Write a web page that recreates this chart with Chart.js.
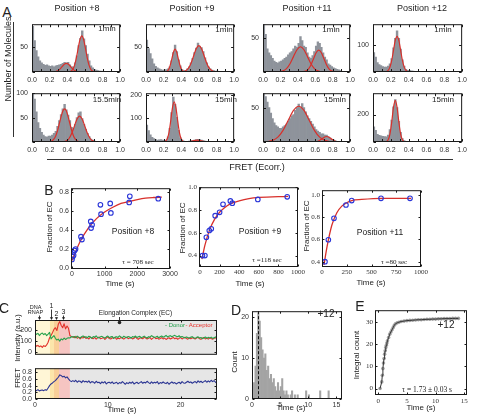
<!DOCTYPE html>
<html>
<head>
<meta charset="utf-8">
<script src="https://cdn.jsdelivr.net/npm/chart.js@4.4.1/dist/chart.umd.min.js"></script>
<style>
  body { margin: 0; background: #fff; }
  #fig { position: relative; width: 480px; height: 420px; overflow: hidden; background: #fff;
         font-family: "Liberation Sans", Arial, sans-serif; color: #222; }
  #fig canvas { position: absolute; }
  .lbl { position: absolute; white-space: nowrap; line-height: 1; transform: translate(-50%, -50%); }
  .rot { transform: translate(-50%, -50%) rotate(-90deg); }
  .rule { position: absolute; background: #333; }
</style>
</head>
<body>
<div id="fig"></div>
<script>
// ---------- A: FRET histograms (counts per 0.02 bin, 0..1) ----------
const fretTicks = [0, 0.1, 0.2, 0.3, 0.4, 0.5, 0.6, 0.7, 0.8, 0.9, 1];
const binWidth = 0.02;

const histA1 = [90, 62, 42, 30, 22, 18, 15, 13, 14, 12,
                11, 12, 10, 12, 13, 14, 15, 17, 19, 18,
                19, 14, 10, 10, 18, 32, 52, 66, 81, 65,
                52, 35, 22, 12, 8, 5, 4, 3, 2, 2,
                1, 1, 0, 0, 0, 0, 0, 0, 0, 0];
const histA2 = [63, 46, 36, 26, 16, 11, 8, 6, 5, 4,
                4, 5, 6, 10, 22, 38, 53, 40, 24, 12,
                5, 3, 3, 6, 10, 18, 27, 38, 47, 57,
                50, 48, 40, 28, 18, 10, 6, 4, 3, 2,
                2, 1, 1, 1, 0, 0, 0, 0, 0, 0];
const histA3 = [72, 55, 34, 28, 24, 20, 16, 14, 13, 15,
                16, 18, 20, 22, 25, 28, 30, 34, 38, 36,
                42, 52, 46, 38, 36, 28, 22, 20, 24, 30,
                38, 44, 42, 36, 28, 22, 18, 12, 10, 8,
                6, 5, 4, 3, 2, 1, 0, 0, 0, 0];
const histA4 = [72, 56, 35, 28, 24, 20, 18, 18, 22, 30,
                50, 90, 125, 153, 125, 85, 45, 22, 10, 6,
                6, 4, 3, 1, 1, 0, 0, 0, 0, 0,
                0, 0, 0, 0, 0, 0, 0, 0, 0, 0,
                0, 0, 0, 0, 0, 0, 0, 0, 0, 0];
const histA5 = [100, 88, 62, 40, 28, 20, 14, 11, 10, 12,
                12, 14, 18, 22, 32, 44, 56, 68, 77, 66,
                55, 44, 30, 28, 36, 50, 60, 62, 48, 36,
                26, 18, 11, 6, 4, 2, 1, 1, 0, 0,
                0, 0, 0, 0, 0, 0, 0, 0, 0, 0];
const histA6 = [72, 48, 30, 20, 14, 10, 8, 9, 10, 8,
                6, 8, 22, 58, 125, 191, 160, 105, 50, 18,
                8, 4, 3, 3, 4, 5, 6, 8, 10, 11,
                10, 8, 6, 4, 3, 2, 1, 1, 0, 0,
                0, 0, 0, 0, 0, 0, 0, 0, 0, 0];
const histA7 = [71, 66, 58, 50, 42, 34, 28, 24, 22, 20,
                20, 22, 24, 26, 30, 34, 38, 40, 46, 50,
                55, 50, 56, 50, 44, 38, 34, 30, 26, 22,
                18, 16, 14, 12, 12, 10, 10, 8, 6, 4,
                3, 2, 1, 1, 0, 0, 0, 0, 0, 0];
const histA8 = [110, 85, 55, 48, 45, 42, 40, 38, 50, 90,
                160, 255, 308, 250, 150, 70, 25, 10, 5, 3,
                2, 1, 1, 0, 0, 0, 0, 0, 0, 0,
                0, 0, 0, 0, 0, 0, 0, 0, 0, 0,
                0, 0, 0, 0, 0, 0, 0, 0, 0, 0];

// fitted peaks, read as [FRET, count]
const fitA1a = [[0.15,0],[0.24,0.2],[0.27,1],[0.29,2.3],[0.31,4.7],[0.33,8.3],[0.35,12.3],[0.37,15.7],[0.39,17],[0.41,15.7],[0.43,12.3],[0.45,8.3],[0.47,4.7],[0.49,2.3],[0.51,1],[0.54,0.2],[0.6,0]];
const fitA1b = [[0.38,0],[0.405,0.1],[0.425,0.6],[0.445,2],[0.465,6],[0.485,14.6],[0.505,29.2],[0.525,47.9],[0.545,64.3],[0.565,71],[0.585,64.3],[0.605,47.9],[0.625,29.2],[0.645,14.6],[0.665,6],[0.685,2],[0.705,0.6],[0.725,0.1],[0.78,0],[1,0]];
const fitA2a = [[0.15,0],[0.21,0.1],[0.23,0.8],[0.25,3.3],[0.27,10.4],[0.29,23.4],[0.31,38.2],[0.33,45],[0.35,38.2],[0.37,23.4],[0.39,10.4],[0.41,3.3],[0.43,0.8],[0.45,0.1],[0.5,0]];
const fitA2b = [[0.35,0],[0.39,0.1],[0.42,0.6],[0.45,2.3],[0.48,7],[0.51,16.9],[0.54,31.6],[0.57,45.9],[0.6,52],[0.63,45.9],[0.66,31.6],[0.69,16.9],[0.72,7],[0.75,2.3],[0.78,0.6],[0.81,0.1],[0.86,0],[1,0]];
const fitA3a = [[0.12,0],[0.19,0.4],[0.23,1.6],[0.27,5],[0.31,12],[0.35,22.5],[0.39,32.6],[0.43,37],[0.47,32.6],[0.51,22.5],[0.55,12],[0.59,5],[0.63,1.6],[0.67,0.4],[0.74,0]];
const fitA3b = [[0.4,0],[0.46,0.4],[0.49,1.4],[0.52,4.3],[0.55,10.4],[0.58,19.4],[0.61,28.2],[0.64,32],[0.67,28.2],[0.7,19.4],[0.73,10.4],[0.76,4.3],[0.79,1.4],[0.82,0.4],[0.88,0],[1,0]];
const fitA4 = [[0.05,0],[0.13,0.3],[0.15,1.5],[0.17,5.8],[0.19,18],[0.21,43.2],[0.23,80.7],[0.25,117.4],[0.27,133],[0.29,117.4],[0.31,80.7],[0.33,43.2],[0.35,18],[0.37,5.8],[0.39,1.5],[0.41,0.3],[0.46,0],[1,0]];
const fitA5a = [[0.15,0],[0.19,0.3],[0.21,1],[0.23,2.7],[0.25,6.3],[0.27,13],[0.29,23.6],[0.31,37.5],[0.33,52],[0.35,63.7],[0.37,68],[0.39,63.7],[0.41,52],[0.43,37.5],[0.45,23.6],[0.47,13],[0.49,6.3],[0.51,2.7],[0.53,1],[0.55,0.3],[0.6,0]];
const fitA5b = [[0.3,0],[0.33,0.1],[0.36,0.6],[0.39,2.3],[0.42,7.2],[0.45,17.2],[0.48,32.1],[0.51,46.7],[0.54,53],[0.57,46.7],[0.6,32.1],[0.63,17.2],[0.66,7.2],[0.69,2.3],[0.72,0.6],[0.75,0.1],[0.8,0],[1,0]];
const fitA6a = [[0.1,0],[0.18,0.1],[0.2,0.5],[0.22,2.9],[0.24,12.5],[0.26,39],[0.28,88.5],[0.3,144.4],[0.32,170],[0.34,144.4],[0.36,88.5],[0.38,39],[0.4,12.5],[0.42,2.9],[0.44,0.5],[0.46,0.1],[0.5,0]];
const fitA6b = [[0.4,0],[0.43,0.1],[0.48,1.1],[0.53,4.9],[0.58,8],[0.63,4.9],[0.68,1.1],[0.73,0.1],[0.8,0],[1,0]];
const fitA7a = [[0,0.1],[0.05,0.6],[0.11,2.3],[0.17,7],[0.23,16.9],[0.29,31.6],[0.35,45.9],[0.41,52],[0.47,45.9],[0.53,31.6],[0.59,16.9],[0.65,7],[0.71,2.3],[0.77,0.6],[0.83,0.1],[0.9,0]];
const fitA7b = [[0.55,0],[0.58,0.1],[0.63,1.1],[0.68,4.9],[0.73,8],[0.78,4.9],[0.83,1.1],[0.88,0.1],[0.92,0]];
const fitA8 = [[0.05,0],[0.13,0.4],[0.15,3],[0.17,16],[0.19,58],[0.21,145],[0.23,252],[0.25,303],[0.27,252],[0.29,145],[0.31,58],[0.33,16],[0.35,3],[0.37,0.4],[0.42,0],[1,0]];

// ---------- B: fraction of EC vs time ----------
const b1T = [0, 20, 50, 80, 110, 275, 305, 575, 585, 615, 870, 890, 1170, 1190, 1750, 1770, 2640];
const b1Y = [0.09, 0.12, 0.135, 0.185, 0.2, 0.33, 0.3, 0.49, 0.42, 0.455, 0.665, 0.567, 0.68, 0.58, 0.69, 0.755, 0.73];
const b1FitT = [0, 250, 500, 750, 1000, 1250, 1500, 1750, 2000, 2250, 2500, 2750];
const b1FitY = [0.08, 0.28, 0.42, 0.52, 0.59, 0.64, 0.68, 0.70, 0.72, 0.735, 0.742, 0.746];
const b2T = [25, 50, 65, 95, 115, 155, 200, 235, 310, 330, 590, 890];
const b2Y = [0.4, 0.4, 0.56, 0.62, 0.635, 0.75, 0.78, 0.85, 0.88, 0.86, 0.893, 0.916];
const b2FitT = [20, 50, 100, 150, 200, 250, 300, 400, 500, 600, 900];
const b2FitY = [0.37, 0.49, 0.63, 0.72, 0.78, 0.82, 0.85, 0.88, 0.9, 0.91, 0.92];
const b3T = [30, 64, 121, 242, 300, 596, 889];
const b3Y = [0.4, 0.597, 0.79, 0.91, 0.95, 0.97, 0.97];
const b3FitT = [20, 50, 75, 100, 150, 200, 250, 300, 400, 600, 900];
const b3FitY = [0.37, 0.53, 0.64, 0.73, 0.84, 0.9, 0.93, 0.95, 0.96, 0.97, 0.97];

// ---------- C: single-molecule trace, 0.2 s frames ----------
const cDt = 0.2;
const cDonor = [175,160,170,150,165,172,158,168,150,162,178,
  120,135,150,125,110,118,100,120,112,128,115,125,130,128,140,
  138,142,130,145,136,128,140,147,133,139, 131,144,137,126,141,135,148,132,129,140,
  143,134,127,139,146,131,138,142,125,136, 140,133,147,138,129,144,136,131,142,137,
  128,141,135,146,132,139,143,130,137,145, 134,128,140,136,149,141,133,138,144,130,
  139,146,135,142,151,138,145,149,140,147, 152,143,139,148,136,141,134,129,138,132,
  127,136,140,131,125,134,138,128,133,122, 130,137,126,134,129,136,124,131,138,128];
const cAcceptor = [70,55,62,50,58,45,60,52,66,90,130,
  150,175,205,220,195,250,275,240,220,255,210,235,215,150,140,
  138,130,142,126,135,120,133,128,140,124, 131,119,136,127,122,134,118,129,137,121,
  126,132,115,128,138,123,119,130,125,134, 117,127,121,133,126,118,129,136,122,128,
  131,120,126,139,124,117,130,127,121,135, 128,119,125,132,116,127,134,122,129,118,
  124,131,120,127,115,123,130,119,126,133, 121,128,117,125,132,120,127,135,124,118,
  129,122,131,126,119,128,134,121,116,127, 132,120,125,118,129,123,117,126,131,122];
const cFret = [0.27,0.25,0.28,0.24,0.26,0.27,0.25,0.28,0.26,0.33,0.40,
  0.45,0.48,0.52,0.55,0.60,0.65,0.72,0.70,0.66,0.68,0.63,0.66,0.60,0.55,0.52,
  0.55,0.52,0.56,0.50,0.54,0.53,0.49,0.55,0.51,0.53, 0.50,0.54,0.48,0.52,0.51,0.47,0.53,0.49,0.50,0.46,
  0.51,0.48,0.52,0.45,0.49,0.50,0.47,0.51,0.46,0.48, 0.50,0.45,0.49,0.47,0.52,0.48,0.44,0.49,0.46,0.50,
  0.47,0.51,0.45,0.48,0.50,0.46,0.49,0.52,0.47,0.50, 0.48,0.53,0.49,0.46,0.51,0.47,0.50,0.48,0.52,0.45,
  0.49,0.47,0.51,0.48,0.46,0.50,0.44,0.48,0.51,0.47, 0.49,0.45,0.48,0.50,0.46,0.52,0.48,0.47,0.50,0.53,
  0.49,0.51,0.47,0.50,0.52,0.48,0.54,0.50,0.53,0.49, 0.52,0.55,0.50,0.54,0.51,0.56,0.52,0.55,0.50,0.47];
const cPhaseStart = [0, 2.05, 2.6, 3.3, 4.8];
const cPhaseEnd = [2.05, 2.6, 3.3, 4.8, 25];
const cStepTimes = [0.6, 2.2, 2.9, 3.9];
const cStepLabels = [['DNA', 'RNAP'], ['1'], ['2'], ['3']];
const ecTime = 11.6;

// ---------- D: dwell-time histogram (0.25 s bins) ----------
const dBin = 0.25;
const dCounts = [0,4,8,16,21,19,15,12,10,11, 7,8,5,6,4,5,3,2,4,2,
                 3,5,2,1,2,1,0,1,2,0, 1,0,1,0,0,0,0,0,2,0,
                 1,0,0,0,0,0,0,0,2,0, 0,0,0,0,2,0,0,0,0,0];
const dMarker = 1.1;

// ---------- E: integral count ----------
const eT = [0.3,0.6,0.7,0.8,0.9,1.0,1.1,1.2,1.3,1.4,1.5,1.6,1.8,2.0,2.2,2.4,2.6,2.8,3.0,3.3,3.6,4.0,4.5,5.0,5.5,6.0,6.5,7.0,7.5,8.0,8.5,9.0,9.5,10.0,10.5,11.0,11.5,12.0,12.5,13.0,13.5,14.0];
const eY = [0,3,6,9,11.5,13.5,15.5,17,18.5,19.5,20.5,21.5,23,24.5,25.5,26.5,27.5,28.5,29.2,29.6,29.9,30.2,30.4,30.6,30.7,30.8,30.9,31.0,31.0,31.1,31.2,31.2,31.3,31.3,31.4,31.4,31.5,31.5,31.5,31.6,31.6,31.6];

// ---------- drawing ----------
const SANS = '"Liberation Sans", Arial, sans-serif';
const SERIF = '"Liberation Serif", "Times New Roman", serif';
const GRAY = '#8e939b', RED = '#d8302b';
const phaseColors = ['#fff6d6', '#fce6aa', '#f9cf98', '#f6c5c2', '#e6e6e6'];

Chart.defaults.font.family = SANS;
Chart.defaults.font.size = 7;
Chart.defaults.color = '#333';
Chart.defaults.animation = false;
Chart.defaults.events = [];
Chart.defaults.plugins.legend.display = false;
Chart.defaults.plugins.tooltip.enabled = false;

const fig = document.getElementById('fig');
const pts = arr => arr.map(([x, y]) => ({x, y}));
const zip = (xs, ys) => xs.map((x, i) => ({x, y: ys[i]}));

function axis(min, max, ticks, o = {}) {
  return {
    type: 'linear', min, max, offset: false,
    grid: {display: false, drawTicks: false}, border: {display: false},
    afterBuildTicks: s => { s.ticks = ticks.map(v => ({value: v})); },
    ticks: {autoSkip: false, maxRotation: 0, padding: o.pad ?? 2, display: o.show !== false,
            font: {size: o.size ?? 7, family: o.serif ? SERIF : SANS},
            callback: o.fmt || (v => v)}
  };
}

function decor(o = {}) {
  return {
    id: 'decor',
    beforeDatasetsDraw(chart) {
      const {ctx, chartArea: a, scales: {x}} = chart;
      (o.regions || []).forEach(r => {
        const x0 = x.getPixelForValue(r.from), x1 = x.getPixelForValue(r.to);
        ctx.fillStyle = r.color;
        ctx.fillRect(x0, a.top, x1 - x0, a.bottom - a.top);
      });
    },
    afterDatasetsDraw(chart) {
      const {ctx, chartArea: a, scales: {x, y}} = chart;
      ctx.save();
      if (o.vline !== undefined) {
        const px = Math.round(x.getPixelForValue(o.vline)) + 0.5;
        ctx.strokeStyle = '#111'; ctx.lineWidth = 1; ctx.setLineDash([3, 2]);
        ctx.beginPath(); ctx.moveTo(px, a.top); ctx.lineTo(px, a.bottom); ctx.stroke();
        ctx.setLineDash([]);
      }
      const L = a.left + 0.5, R = a.right - 0.5, T = a.top + 0.5, B = a.bottom - 0.5;
      const len = o.tick ?? 2.5;
      ctx.strokeStyle = '#1a1a1a'; ctx.lineWidth = 1;
      ctx.strokeRect(L, T, R - L, B - T);
      ctx.beginPath();
      x.ticks.forEach(t => {
        const px = Math.round(x.getPixelForValue(t.value)) + 0.5;
        ctx.moveTo(px, B); ctx.lineTo(px, B - len);
        ctx.moveTo(px, T); ctx.lineTo(px, T + len);
      });
      y.ticks.forEach(t => {
        const py = Math.round(y.getPixelForValue(t.value)) + 0.5;
        ctx.moveTo(L, py); ctx.lineTo(L + len, py);
        ctx.moveTo(R, py); ctx.lineTo(R - len, py);
      });
      ctx.stroke();
      if (o.marks) o.marks(ctx, x, a);
      ctx.restore();
    }
  };
}

// area = plot box [left, top, width, height]; pad = room for ticks [left, top, right, bottom]
function panel(area, pad, config) {
  const [L, T, W, H] = area, [pl, pt, pr, pb] = pad;
  const cv = document.createElement('canvas');
  cv.width = W + pl + pr; cv.height = H + pt + pb;
  cv.style.left = (L - pl) + 'px'; cv.style.top = (T - pt) + 'px';
  fig.appendChild(cv);
  const o = config.options;
  o.responsive = false;
  o.layout = {padding: {left: 0, top: pt, right: pr, bottom: 0}};
  o.scales.x.afterFit = s => { s.height = pb; };
  o.scales.y.afterFit = s => { s.width = pl; };
  return new Chart(cv, config);
}

function text(str, x, y, size, o = {}) {
  const d = document.createElement('div');
  d.className = 'lbl' + (o.rot ? ' rot' : '');
  d.textContent = str;
  d.style.left = x + 'px'; d.style.top = y + 'px'; d.style.fontSize = size + 'px';
  if (o.serif) d.style.fontFamily = SERIF;
  if (o.color) d.style.color = o.color;
  fig.appendChild(d);
}
function rule(x, y, w, h) {
  const d = document.createElement('div');
  d.className = 'rule';
  Object.assign(d.style, {left: x + 'px', top: y + 'px', width: w + 'px', height: h + 'px'});
  fig.appendChild(d);
}

// ---- A ----
const panelsA = [
  {area: [32, 18, 93, 54], hist: histA1, fits: [fitA1a, fitA1b], yMax: 94, yTicks: [0, 50]},
  {area: [146, 18, 93, 54], hist: histA2, fits: [fitA2a, fitA2b], yMax: 94, yTicks: [0, 50]},
  {area: [263, 18, 92, 54], hist: histA3, fits: [fitA3a, fitA3b], yMax: 70, yTicks: [0, 50]},
  {area: [373, 18, 94, 54], hist: histA4, fits: [fitA4], yMax: 178, yTicks: [0, 100]},
  {area: [32, 87, 93, 55], hist: histA5, fits: [fitA5a, fitA5b], yMax: 100, yTicks: [0, 50, 100]},
  {area: [146, 87, 93, 55], hist: histA6, fits: [fitA6a, fitA6b], yMax: 207, yTicks: [0, 100, 200]},
  {area: [263, 87, 92, 55], hist: histA7, fits: [fitA7a, fitA7b], yMax: 71, yTicks: [0, 50]},
  {area: [373, 87, 94, 55], hist: histA8, fits: [fitA8], yMax: 355, yTicks: [0, 200]}
];
panelsA.forEach(p => {
  const bars = p.hist.map((c, i) => ({x: (i + 0.5) * binWidth, y: c}));
  panel(p.area, [18, 2, 4, 13], {
    type: 'bar',
    data: {datasets: [
      {data: bars, backgroundColor: GRAY, barPercentage: 1, categoryPercentage: 1, order: 2},
      ...p.fits.map(f => ({type: 'line', data: pts(f), borderColor: RED, borderWidth: 1.2,
        pointRadius: 0, cubicInterpolationMode: 'monotone', order: 1}))
    ]},
    options: {scales: {
      x: axis(0, 1, fretTicks, {pad: 4, fmt: v => (Math.round(v * 10) % 2 ? '' : v.toFixed(1))}),
      y: axis(0, p.yMax, p.yTicks, {pad: 4, fmt: v => (v ? v : '')})
    }},
    plugins: [decor()]
  });
});

// ---- B ----
const panelsB = [
  {area: [71, 185, 99, 84], t: b1T, y: b1Y, ft: b1FitT, fy: b1FitY, xr: [-30, 3000], yr: [-0.01, 0.84],
   xt: [0, 1000, 2000, 3000], yt: [0, 0.2, 0.4, 0.6, 0.8], serif: false},
  {area: [199, 184, 99, 83], t: b2T, y: b2Y, ft: b2FitT, fy: b2FitY, xr: [-10, 1000], yr: [0.3, 1.0],
   xt: [0, 200, 400, 600, 800, 1000], yt: [0.4, 0.6, 0.8, 1.0], serif: true},
  {area: [322, 187, 99, 80], t: b3T, y: b3Y, ft: b3FitT, fy: b3FitY, xr: [0, 1000], yr: [0.352, 1.043],
   xt: [0, 250, 500, 750, 1000], yt: [0.4, 0.6, 0.8, 1.0], serif: true}
];
panelsB.forEach(p => {
  panel(p.area, [16, 3, 9, 12], {
    type: 'scatter',
    data: {datasets: [
      {data: zip(p.t, p.y), pointRadius: 2.3, pointBorderWidth: 1.1, pointBorderColor: '#2a35d8',
       pointBackgroundColor: 'rgba(255,255,255,0)', order: 1},
      {data: zip(p.ft, p.fy), showLine: true, borderColor: RED, borderWidth: 1.3, pointRadius: 0,
       cubicInterpolationMode: 'monotone', order: 2}
    ]},
    options: {scales: {
      x: axis(p.xr[0], p.xr[1], p.xt, {pad: 1, serif: p.serif}),
      y: axis(p.yr[0], p.yr[1], p.yt, {pad: 2, serif: p.serif, fmt: v => v.toFixed(1)})
    }},
    plugins: [decor({tick: 2})]
  });
});

// ---- C ----
const cRegions = cPhaseStart.map((s, i) => ({from: s, to: cPhaseEnd[i], color: phaseColors[i]}));
const cTime = cDonor.map((_, i) => i * cDt);
const stepLabelY = [[7, 12.5], [6], [14.5], [12]];
const stepArrowTop = [15.5, 9.5, 17.5, 15.5];
function drawArrow(ctx, px, y0, y1) {
  ctx.beginPath(); ctx.moveTo(px, y0); ctx.lineTo(px, y1 - 2); ctx.stroke();
  ctx.beginPath(); ctx.moveTo(px - 1.6, y1 - 2.8); ctx.lineTo(px + 1.6, y1 - 2.8); ctx.lineTo(px, y1); ctx.closePath(); ctx.fill();
}
function cMarks(ctx, x, a) {
  ctx.fillStyle = '#222'; ctx.strokeStyle = '#222'; ctx.lineWidth = 0.9;
  ctx.textAlign = 'center'; ctx.textBaseline = 'middle';
  cStepTimes.forEach((t, i) => {
    const px = Math.round(x.getPixelForValue(t)) + 0.5;
    ctx.font = (i ? 7 : 5.5) + 'px ' + SANS;
    cStepLabels[i].forEach((s, j) => ctx.fillText(s, px + (i ? 0 : -4), stepLabelY[i][j]));
    drawArrow(ctx, px, stepArrowTop[i], a.top);
  });
  const ex = Math.round(x.getPixelForValue(ecTime)) + 0.5;
  ctx.font = '6.5px ' + SANS;
  ctx.fillText('Elongation Complex (EC)', ex + 16, 13);
  ctx.beginPath(); ctx.moveTo(ex, 17); ctx.lineTo(ex, a.top + 2); ctx.stroke();
  ctx.beginPath(); ctx.arc(ex, a.top + 2.5, 1.8, 0, Math.PI * 2); ctx.fill();
}
const traceStyle = {showLine: true, pointRadius: 0, borderWidth: 1.1, borderJoinStyle: 'round'};
panel([35, 320, 182, 42], [16, 20, 3, 0], {
  type: 'scatter',
  data: {datasets: [
    {...traceStyle, data: zip(cTime, cDonor), borderColor: '#25a24b'},
    {...traceStyle, data: zip(cTime, cAcceptor), borderColor: '#e2332c'}
  ]},
  options: {scales: {
    x: axis(0, 25, [0, 10, 20], {show: false}),
    y: axis(-22, 289, [0, 100, 200], {pad: 3})
  }},
  plugins: [decor({regions: cRegions, marks: cMarks, tick: 2})]
});
panel([35, 361, 182, 38], [16, 0, 3, 12], {
  type: 'scatter',
  data: {datasets: [{...traceStyle, data: zip(cTime, cFret), borderColor: '#2b3593'}]},
  options: {scales: {
    x: axis(0, 25, [0, 10, 20], {pad: 1.5}),
    y: axis(0, 0.92, [0, 0.2, 0.4, 0.6, 0.8], {pad: 3, fmt: v => v.toFixed(1)})
  }},
  plugins: [decor({regions: cRegions, tick: 2})]
});

// ---- D ----
panel([252, 308, 90, 91], [14, 4, 4, 12], {
  type: 'bar',
  data: {datasets: [{data: dCounts.map((c, i) => ({x: (i + 0.5) * dBin, y: c})),
    backgroundColor: '#a4a4a4', barPercentage: 1, categoryPercentage: 1}]},
  options: {scales: {
    x: axis(0, 16, [0, 5, 10, 15], {pad: 1.5}),
    y: axis(0, 21.4, [0, 10, 20], {pad: 3})
  }},
  plugins: [decor({vline: dMarker, tick: 2})]
});

// ---- E ----
panel([375, 308, 92, 87], [13, 4, 4, 13], {
  type: 'scatter',
  data: {datasets: [
    {data: zip(eT, eY), showLine: true, borderColor: '#333', borderWidth: 1, pointRadius: 0, order: 1},
    {data: zip(eT, eY), pointRadius: 1.8, pointBorderWidth: 0, pointBackgroundColor: '#a0a0a0', order: 2}
  ]},
  options: {scales: {
    x: axis(-0.58, 15.5, [0, 5, 10, 15], {pad: 1.5, serif: true}),
    y: axis(-2.9, 35.3, [0, 10, 20, 30], {pad: 2, serif: true})
  }},
  plugins: [decor({tick: 2})]
});

// ---- text ----
text('A', 7, 12, 14);
text('Position +8', 77, 8, 9); text('Position +9', 192, 8, 9);
text('Position +11', 307, 8, 9); text('Position +12', 422, 8, 9);
text('1min', 107, 29, 8); text('1min', 224, 30, 8); text('1min', 331, 30, 8); text('1min', 443, 30, 8);
text('15.5min', 107, 100, 8); text('15min', 226, 100, 8); text('15min', 335, 100, 8); text('15min', 443, 100, 8);
text('Number of Molecules', 8, 59, 9, {rot: true});
rule(13, 22, 1, 115);
rule(47, 159, 406, 1);
text('FRET  (Ecorr.)', 257, 167, 9);

text('B', 49, 190, 14);
text('Fraction of EC', 50, 227, 8, {rot: true});
text('Fraction of EC', 183, 228, 8, {rot: true});
text('Fraction of EC', 307, 226, 8, {rot: true});
text('Time (s)', 120, 284, 8); text('Time (s)', 250, 284, 8); text('Time (s)', 371, 283, 8);
text('Position +8', 133, 231, 8.5); text('Position +9', 260, 231, 8.5); text('Position +11', 380, 232, 8.5);
text('τ = 708 sec', 138, 261.5, 7, {serif: true});
text('τ =118 sec', 267, 260, 7, {serif: true});
text('τ =80 sec', 394, 262, 7, {serif: true});

text('C', 4, 308, 14);
text('Intensity (a.u.)', 18, 338, 7.5, {rot: true});
text('FRET', 18, 378, 7.5, {rot: true});
text('- Donor', 175, 325, 6, {color: '#1f9e49'});
text('- Acceptor', 199, 325, 6, {color: '#e8302a'});
text('Time (s)', 122, 410, 8);

text('D', 236, 310, 14);
text('Count', 235, 362, 8, {rot: true});
text('+12', 326, 314, 10);
text('Time (s)', 291, 408, 8);

text('E', 360, 306, 14);
text('Integral count', 357, 355, 8, {rot: true});
text('+12', 446, 325, 10);
text('τ = 1.73 ± 0.03 s', 427, 389.5, 7.5, {serif: true});
text('Time (s)', 421, 408, 8);
</script>
</body>
</html>
